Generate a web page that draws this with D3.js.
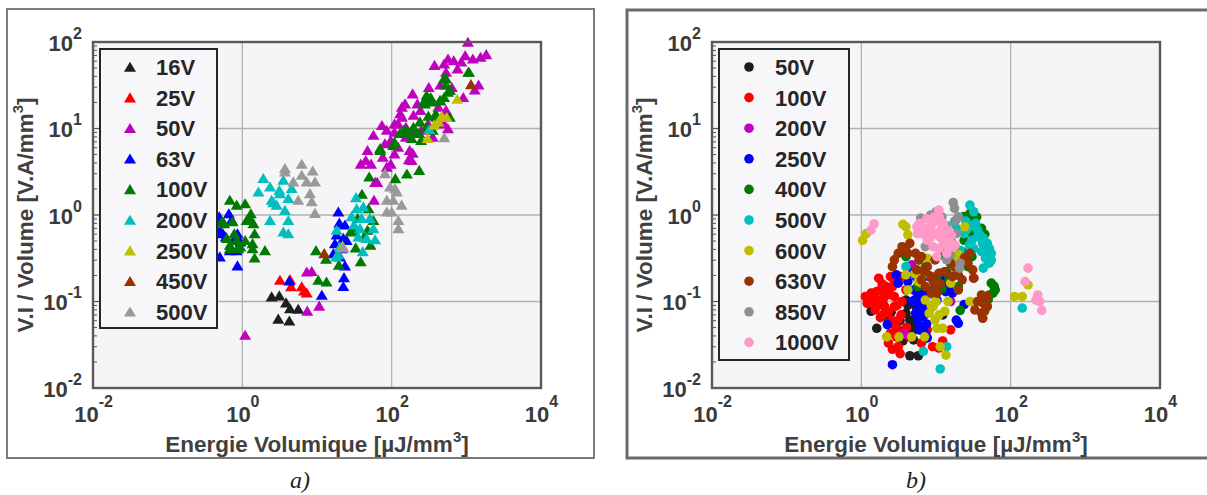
<!DOCTYPE html>
<html><head><meta charset="utf-8">
<script src="https://cdn.jsdelivr.net/npm/d3@7"></script>
<style>
body{margin:0;background:#fff;}
svg{display:block;font-family:"Liberation Sans",Arial,Helvetica,sans-serif;}
</style>
</head><body>
<svg id="c" width="1207" height="495"></svg>
<script>
// ---------- Axis ticks ----------
const xTicks = [1e-2, 1e0, 1e2, 1e4];
const yTicks = [1e-2, 1e-1, 1e0, 1e1, 1e2];
const xGrid = [1e0, 1e2];
const yGrid = [1e-1, 1e0, 1e1];

// ---------- Panel a) : triangles ----------
const labelsA = ["16V","25V","50V","63V","100V","200V","250V","450V","500V"];
const colorsA = ["#1e1e1e","#ff0000","#bf00bf","#0000ff","#007a00","#00bfbf","#bfbf00","#993300","#999999"];

const a16V = [[2.47,0.114],[3.13,0.117],[3.85,0.097],[4.35,0.083],[5.6,0.082],[3.03,0.063],[4.26,0.060]];
const a25V = [[3.19,0.177],[4.35,0.18],[4.49,0.149],[6.24,0.149],[6.7,0.133],[7.28,0.126]];
const a50V = [[1.09,0.041],[7.4,0.078],[10.7,0.089],[7.3,0.221],[8.5,0.224],[58,1.49],[64,2.4],[45,4.3],[53,3.9],[47.5,5.6],[57,8.4],[74,10.9],[86,9.6],[97,7.3],[109,9.1],[122,11.4],[130,14.9],[137,17.8],[151,19.4],[122,6.1],[109,5.1],[97,3.9],[86,3.6],[155,8.0],[174,5.6],[185,4.3],[196,14.3],[191,25.3],[243,16.3],[314,30],[333,21.2],[375,54],[504,56],[568,64],[678,61],[762,49],[857,59],[966,70],[1050,100],[1222,64],[1549,67],[1848,72],[1459,32],[1297,28],[910,23],[535,16.3],[504,11.4],[398,13.6],[307,11.4],[354,8.0],[248,9.6],[196,8.8],[155,10.4],[191,5.2],[170,4.4],[81,6.7],[60,2.4],[38.5,3.9],[448,32],[535,45],[639,30],[422,17.8],[568,10],[76,4.7],[109,11.4],[221,19.4],[137,13.6]];
const a63V = [[0.42,0.9],[0.44,0.62],[0.49,0.96],[0.53,0.84],[0.50,0.67],[0.66,1.04],[0.72,0.88],[0.60,0.56],[0.76,0.51],[0.86,0.61],[0.68,0.39],[0.84,0.39],[0.50,0.33],[0.86,0.26],[0.55,0.61],[0.94,0.49],[19.3,1.09],[19.9,0.81],[23.7,0.77],[18.3,0.59],[22.5,0.54],[17.4,0.47],[25,0.51],[20.3,0.33],[23.7,0.26],[23,0.19],[22.5,0.15],[11.6,0.119],[4.26,0.174],[16.6,0.36],[21.4,0.41]];
const a100V = [[0.68,1.49],[0.84,1.31],[1.09,1.36],[0.57,0.80],[0.74,0.84],[0.62,0.54],[0.84,0.51],[1.09,0.51],[1.14,0.87],[0.68,0.41],[0.88,0.41],[1.30,1.04],[1.25,0.92],[1.41,0.80],[1.46,0.61],[1.37,0.47],[1.37,0.41],[2.01,0.39],[1.46,0.32],[0.53,0.84],[0.78,0.61],[0.94,0.43],[0.68,0.45],
  [9.7,0.39],[13.2,0.31],[10.4,0.177],[13.4,0.169],[19.6,0.265],[33,0.42],[40,1.75],[49,1.19],[47.5,0.67],[52,0.45],[38.5,0.29],[31,0.67],[43,0.56],[57,0.87],[35,0.92],[28,0.64],
  [50,2.77],[70,5.6],[109,7.0],[112,2.65],[160,3.0],[234,3.3],[130,8.8],[146,9.6],[164,8.8],[196,10.4],[234,8.8],[248,7.3],[279,19.4],[296,10.4],[333,23],[354,9.6],[398,14.3],[448,21],[504,38],[535,32],[568,26.5],[602,13.6],[504,23],[1086,45],[185,7.7],[314,21],[533,38],[604,27.9],[294,24.4],[266,19.9],[343,20.4],[444,21.3],[310,14],[239,12],[380,14.3],[159,9.6],[129,8.8],[216,8.8],[105,6.4],[70,5.9],[1062,45]];
const a200V = [[1.91,2.66],[2.35,2.12],[1.64,1.86],[3.13,1.94],[3.54,2.54],[2.47,1.49],[2.88,1.31],[4.13,1.56],[3.72,1.14],[4.13,0.87],[2.35,0.87],[3.54,0.64],[4.13,0.61],[4.58,2.04],[3.19,1.78],[2.6,1.4],[33.3,1.6],[34,1.19],[41.7,1.25],[31.3,0.77],[39.6,0.92],[51,0.92],[57,0.70],[18.3,0.67],[19.3,0.35],[46,0.54],[60,0.52],[35.7,0.56],[41,0.38],[20.3,0.43],[37.7,0.70],[29,0.96],[18,0.33],[320,9.8]];
const a250V = [[757,21.9],[468,14],[422,12],[372,11],[303,7.7],[546,13.5],[22,0.44]];
const a450V = [[12.5,0.36],[1153,32.4]];
const a500V = [[3.72,3.47],[6.24,3.89],[8.75,3.25],[4.82,2.43],[6.24,2.9],[7.28,2.43],[9.4,2.43],[8.05,1.78],[8.5,1.43],[5.6,1.49],[9.4,1.05],[3.72,3.16],[81.5,3.03],[95,2.12],[117,1.86],[86,1.49],[105,1.49],[136,1.31],[86,1.09],[123,0.87],[123,0.70],[111,2.04],[100,1.09],[507,7.9],[22.5,0.42]];

// ---------- Panel b) : circles ----------
const labelsB = ["50V","100V","200V","250V","400V","500V","600V","630V","850V","1000V"];
const colorsB = ["#1e1e1e","#ff0000","#bf00bf","#0000ff","#007a00","#00bfbf","#bfbf00","#993300","#8f8f8f","#ff99c8"];

const b50V = [[1.61,0.049],[2.18,0.067],[4.46,0.0236],[5.8,0.0236],[3.12,0.047],[3.96,0.073],[4.46,0.061],[6.38,0.047],[12.3,0.070],[5.02,0.036],[1.35,0.077],[3.96,0.104],[2.77,0.043],[4.2,0.09],[5.2,0.055],[2.0,0.09],[2.5,0.075],[3.3,0.06],[3.6,0.035],[5.5,0.085],[4.8,0.045]];
const b100V = [[1.13,0.114],[1.35,0.1],[1.71,0.186],[1.82,0.136],[1.61,0.0875],[2.18,0.125],[2.77,0.163],[2.77,0.0875],[2.05,0.0875],[3.12,0.061],[2.45,0.043],[3.12,0.030],[3.31,0.025],[2.61,0.028],[4.46,0.039],[3.96,0.136],[6.38,0.033],[10.9,0.029],[15.7,0.047],[12.3,0.035],[2.31,0.056],[1.71,0.104],[3.51,0.1],[1.35,0.125],[2.45,0.194],[2.61,0.149],[1.93,0.070],[2.94,0.039],[2.31,0.033],[1.52,0.080],[2.77,0.114],[3.31,0.194],[7.64,0.047],[3.51,0.043],[1.2,0.095],[1.45,0.11],[1.9,0.16],[2.1,0.15],[2.4,0.12],[2.0,0.11],[1.6,0.13],[2.6,0.06],[2.9,0.05],[3.4,0.07],[2.3,0.075],[1.8,0.065],[4.0,0.05],[9,0.03],[3.0,0.09]];
const b200V = [[4.73,0.265],[32,0.186],[11.6,0.194],[15.7,0.1],[6.5,0.16],[3.8,0.042]];
const b250V = [[2.94,0.203],[3.12,0.163],[4.46,0.212],[5.02,0.136],[5.66,0.125],[6.38,0.104],[5.66,0.080],[6.77,0.067],[6.38,0.0515],[7.19,0.043],[7.64,0.038],[5.66,0.061],[11.6,0.212],[14.8,0.149],[16.6,0.125],[18.7,0.061],[19.9,0.056],[23.8,0.092],[2.61,0.0186],[2.23,0.054],[9.14,0.136],[10.3,0.104],[5.15,0.104],[6.01,0.163],[8.1,0.194],[5.33,0.073],[6.77,0.0875],[6.0,0.047],[4.2,0.17],[5.5,0.19],[6.5,0.14],[7.2,0.12],[6.2,0.095],[7.0,0.075],[7.5,0.055],[6.8,0.05],[4.8,0.1],[12.5,0.17],[13.5,0.13],[8.5,0.085]];
const b400V = [[23.8,0.96],[28.5,1.04],[40.7,0.70],[30.3,0.61],[23.8,0.51],[55,0.163],[58,0.125],[62,0.136],[21.1,0.079],[19.9,0.149],[10.3,0.194],[5.66,0.149],[11.6,0.345],[30.3,0.33],[15.7,0.277],[26.8,0.253],[32,0.875],[13.9,0.222],[22.4,0.378],[51.8,0.119],[3.96,0.33],[7.2,0.25],[50,0.105],[26,0.78],[35,0.95],[45,0.6],[60,0.15],[15,0.18],[8,0.2],[12,0.14]];
const b500V = [[28.5,1.30],[32,1.09],[17.7,0.84],[23.8,0.61],[30.3,0.51],[36,0.56],[43,0.54],[48.7,0.47],[51.8,0.41],[40.7,0.378],[45.9,0.316],[51.8,0.277],[43,0.243],[55,0.361],[32,0.41],[3.96,0.253],[6.77,0.0265],[11.4,0.0166],[13.9,0.030],[143,0.084],[9.14,0.119],[21.1,0.39],[36,0.67],[18.7,0.70],[26,0.68],[30,0.75],[34,0.8],[38,0.6],[42,0.47],[47,0.38],[28,0.45],[25,0.85],[20,0.95],[55,0.3]];
const b600V = [[1.04,0.51],[1.17,0.61],[3.96,0.73],[4.2,0.59],[3.96,0.203],[4.2,0.136],[2.18,0.039],[3.19,0.039],[4.73,0.039],[7.03,0.039],[9.14,0.0875],[9.7,0.061],[10.3,0.049],[12.3,0.049],[13.1,0.077],[11.4,0.030],[13.6,0.024],[24.4,0.73],[28.5,0.1],[113,0.114],[143,0.114],[171,0.156],[6.38,0.163],[7.64,0.316],[7.19,0.104],[8.1,0.073],[15.7,0.163],[18.7,0.232],[5.2,0.21],[5.8,0.17],[6.6,0.2],[9.5,0.12],[10,0.1],[8.6,0.09],[11,0.07],[14.5,0.1],[3.6,0.78],[20,0.35],[17.5,0.3]];
const b630V = [[2.77,0.303],[3.12,0.361],[3.51,0.43],[4.46,0.47],[5.33,0.361],[6.38,0.33],[7.64,0.253],[8.61,0.194],[9.7,0.149],[10.3,0.125],[5.53,0.232],[6.38,0.178],[7.19,0.149],[8.61,0.125],[4.2,0.361],[9.7,0.303],[15.7,0.277],[22.4,0.178],[19.9,0.136],[26.8,0.277],[28.5,0.361],[31,0.232],[32,0.186],[40.7,0.119],[43,0.096],[40.7,0.073],[48.7,0.0875],[33.2,0.080],[42.3,0.064],[48.7,0.114],[16.6,0.194],[2.61,0.253],[12.3,0.41],[10.9,0.212],[3.9,0.4],[5.9,0.3],[7,0.22],[9.2,0.17],[11.5,0.16],[13,0.22],[18,0.25],[24,0.32],[20,0.2],[36,0.1],[45,0.078]];
const b850V = [[6.24,0.92],[10.1,1.09],[17,1.39],[17.7,1.19],[18.3,0.86],[21.1,0.277],[20.6,0.243],[15.7,0.345],[7.19,0.43],[13.9,0.303],[18.7,0.61],[16,0.5],[12,0.95],[8.5,1.0],[14,0.75],[20,0.95]];
const b1000V = [[1.35,0.67],[1.48,0.787],[5.53,0.73],[6.38,0.61],[8.1,0.67],[8.61,0.73],[10.9,1.14],[10.3,0.84],[11.6,0.67],[12.3,0.51],[9.14,0.43],[7.64,0.51],[10.3,0.33],[14.8,0.51],[16.6,0.43],[13.9,0.361],[10.9,0.41],[5.66,0.61],[13.9,0.61],[171,0.243],[156,0.17],[231,0.119],[245,0.1],[261,0.079],[218,0.104],[9.14,0.875],[7,0.7],[15,0.65],[6,0.8],[7.5,0.9],[9.5,0.95],[11,0.95],[12.5,0.8],[13,0.7],[9.8,0.6],[11.5,0.55],[8.5,0.55],[16,0.58],[18,0.45],[13.5,0.45],[7.2,0.58]];

const seriesA = [a16V,a25V,a50V,a63V,a100V,a200V,a250V,a450V,a500V];
const seriesB = [b50V,b100V,b200V,b250V,b400V,b500V,b600V,b630V,b850V,b1000V];

// ---------- Drawing ----------
const svg = d3.select("#c");
const FONT = '"Liberation Sans", Arial, Helvetica, sans-serif';
const TXT = "#3a3a3a";
const triPath = "M0,-5.3L6,4.8L-6,4.8Z";
const R = 4.8;

function panel(o) {
  const g = svg.append("g");
  g.append("rect").attr("x", o.frame[0]).attr("y", o.frame[1])
    .attr("width", o.frame[2]).attr("height", o.frame[3])
    .attr("fill", "#fff").attr("stroke", o.frameColor).attr("stroke-width", o.frameW);

  const x = d3.scaleLog().domain([1e-2, 1e4]).range([o.left, o.right]);
  const y = d3.scaleLog().domain([1e-2, 1e2]).range([o.bottom, o.top]);

  g.append("rect").attr("x", o.left).attr("y", o.top)
    .attr("width", o.right - o.left).attr("height", o.bottom - o.top)
    .attr("fill", "#f5f5f8");

  g.selectAll(null).data(xGrid).join("line")
    .attr("x1", d => x(d)).attr("x2", d => x(d)).attr("y1", o.top).attr("y2", o.bottom)
    .attr("stroke", "#b2b2b2").attr("stroke-width", 1.3);
  g.selectAll(null).data(yGrid).join("line")
    .attr("y1", d => y(d)).attr("y2", d => y(d)).attr("x1", o.left).attr("x2", o.right)
    .attr("stroke", "#b2b2b2").attr("stroke-width", 1.3);

  const minors = [];
  for (let e = -2; e < 2; e++) for (let k = 2; k <= 9; k++) minors.push(k * Math.pow(10, e));
  g.selectAll(null).data(minors).join("line")
    .attr("x1", o.left).attr("x2", o.left + 4).attr("y1", d => y(d)).attr("y2", d => y(d))
    .attr("stroke", "#555").attr("stroke-width", 1);
  g.selectAll(null).data(yTicks).join("line")
    .attr("x1", o.left).attr("x2", o.left + 7).attr("y1", d => y(d)).attr("y2", d => y(d))
    .attr("stroke", "#555").attr("stroke-width", 1);

  o.series.forEach((s, i) => {
    const sg = g.append("g").attr("fill", o.colors[i]);
    if (o.marker === "tri") {
      sg.selectAll("path").data(s).join("path")
        .attr("d", triPath)
        .attr("transform", d => `translate(${x(d[0])},${y(d[1])})`);
    } else {
      sg.selectAll("circle").data(s).join("circle")
        .attr("cx", d => x(d[0])).attr("cy", d => y(d[1])).attr("r", R);
    }
  });

  g.append("rect").attr("x", o.left).attr("y", o.top)
    .attr("width", o.right - o.left).attr("height", o.bottom - o.top)
    .attr("fill", "none").attr("stroke", "#595959").attr("stroke-width", 2.4);

  const L = o.legend;
  g.append("rect").attr("x", L.x).attr("y", L.y).attr("width", L.w).attr("height", L.h)
    .attr("fill", "#f7f7f9").attr("stroke", "#262626").attr("stroke-width", 2);
  o.labels.forEach((lab, i) => {
    const cy = L.row0 + i * L.step;
    if (o.marker === "tri") {
      g.append("path").attr("d", triPath).attr("fill", o.colors[i])
        .attr("transform", `translate(${L.mx},${cy})`);
    } else {
      g.append("circle").attr("cx", L.mx).attr("cy", cy).attr("r", R).attr("fill", o.colors[i]);
    }
    g.append("text").attr("x", L.tx).attr("y", cy + 8)
      .attr("font-family", FONT).attr("font-weight", "bold").attr("font-size", 22)
      .attr("fill", "#262626").text(lab);
  });

  const gx = g.append("g").attr("transform", `translate(0,${o.bottom})`)
    .call(d3.axisBottom(x).tickValues(xTicks).tickSize(0).tickFormat(() => ""));
  gx.select(".domain").remove();
  gx.attr("font-family", FONT).attr("font-size", 22).attr("font-weight", "bold");
  gx.selectAll(".tick text").each(function (d) {
    const t = d3.select(this).attr("y", 34).attr("dy", null).attr("fill", TXT);
    t.append("tspan").text("10");
    t.append("tspan").attr("dy", -15).attr("font-size", 16).text(String(Math.round(Math.log10(d))));
  });

  const gy = g.append("g").attr("transform", `translate(${o.left},0)`)
    .call(d3.axisLeft(y).tickValues(yTicks).tickSize(0).tickFormat(() => ""));
  gy.select(".domain").remove();
  gy.attr("font-family", FONT).attr("font-size", 22).attr("font-weight", "bold");
  gy.selectAll(".tick text").each(function (d) {
    const t = d3.select(this).attr("x", -11).attr("y", 8).attr("dy", null).attr("fill", TXT);
    t.append("tspan").text("10");
    t.append("tspan").attr("dy", -12).attr("font-size", 16).text(String(Math.round(Math.log10(d))));
  });

  const xt = g.append("text").attr("x", (o.left + o.right) / 2).attr("y", 452)
    .attr("text-anchor", "middle").attr("font-family", FONT).attr("font-weight", "bold")
    .attr("font-size", 22.5).attr("fill", "#404040");
  xt.append("tspan").text("Energie Volumique [\u00b5J/mm");
  xt.append("tspan").attr("dy", -10).attr("font-size", 15).text("3");
  xt.append("tspan").attr("dy", 10).text("]");

  const yt = g.append("text").attr("transform", `translate(${o.left - 60},215) rotate(-90)`)
    .attr("text-anchor", "middle").attr("font-family", FONT).attr("font-weight", "bold")
    .attr("font-size", 22.5).attr("fill", "#404040");
  yt.append("tspan").text("V.I / Volume [V.A/mm");
  yt.append("tspan").attr("dy", -10).attr("font-size", 15).text("3");
  yt.append("tspan").attr("dy", 10).text("]");

  g.append("text").attr("x", o.capX).attr("y", 488).attr("text-anchor", "middle")
    .attr("font-family", '"Liberation Serif", "Times New Roman", serif')
    .attr("font-style", "italic").attr("font-size", 24).attr("fill", "#222").text(o.caption);
}

panel({
  frame: [7, 9, 587, 449], frameColor: "#7a7a7a", frameW: 2,
  left: 93, right: 541, top: 42, bottom: 388,
  series: seriesA, colors: colorsA, labels: labelsA, marker: "tri",
  legend: {x: 100, y: 49, w: 117, h: 279, row0: 67, step: 30.6, mx: 130, tx: 156},
  caption: "a)", capX: 300
});
panel({
  frame: [627, 10, 600, 448], frameColor: "#6a6a6a", frameW: 3,
  left: 712, right: 1160, top: 42, bottom: 388,
  series: seriesB, colors: colorsB, labels: labelsB, marker: "circle",
  legend: {x: 719, y: 49, w: 130, h: 311, row0: 67, step: 30.6, mx: 749, tx: 775},
  caption: "b)", capX: 916
});
</script>
</body></html>
